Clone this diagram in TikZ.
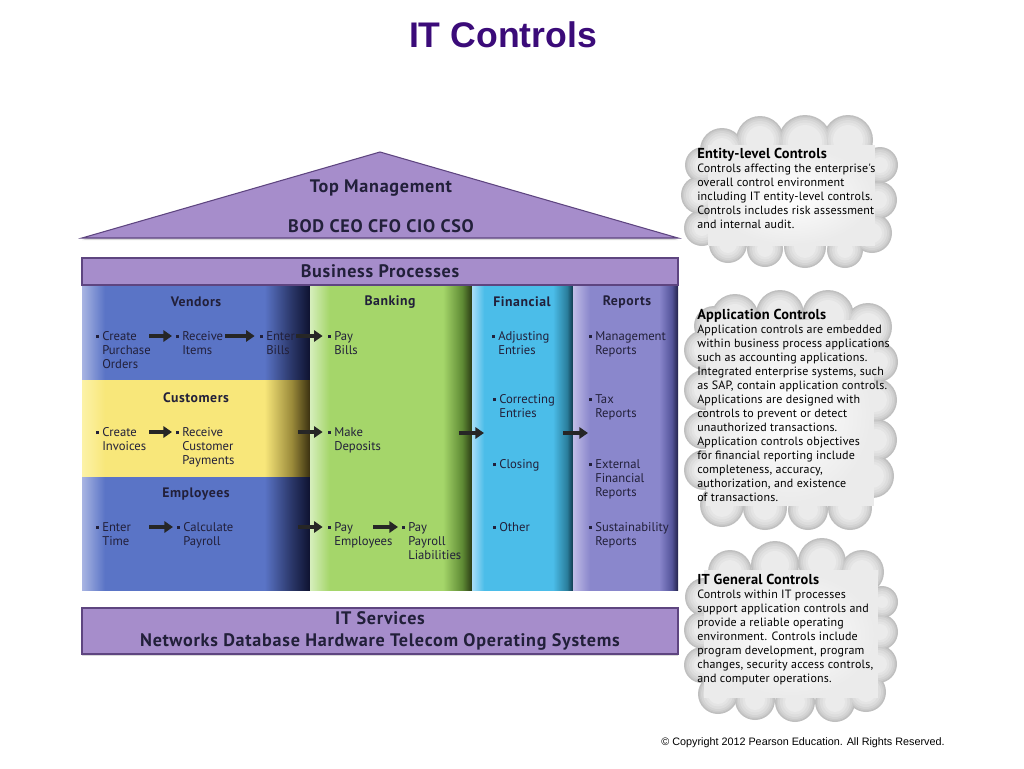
\documentclass[tikz,border=0pt]{standalone}
\usepackage{fontspec}
\setmainfont{PT Sans}
\newfontfamily\arialf{Liberation Sans}
\newfontfamily\hdrfont[LetterSpace=4]{PT Sans}
\newfontfamily\cloudfont[LetterSpace=1.5]{PT Sans}
\usetikzlibrary{arrows.meta,shadows,calc}
\definecolor{titlec}{HTML}{3B0B79}
\definecolor{barfill}{HTML}{A68DCB}
\definecolor{barline}{HTML}{5E4580}
\definecolor{txt}{HTML}{22203A}
\definecolor{bl1}{HTML}{A8B4E2}\definecolor{bl2}{HTML}{5A74C6}\definecolor{bl3}{HTML}{2A3668}\definecolor{bl4}{HTML}{0E1230}
\definecolor{ye1}{HTML}{FCF2A8}\definecolor{ye2}{HTML}{F8E77A}\definecolor{ye3}{HTML}{9A8A3A}\definecolor{ye4}{HTML}{3A3010}
\definecolor{gr1}{HTML}{D6EEBC}\definecolor{gr2}{HTML}{A5D66A}\definecolor{gr3}{HTML}{5E8A34}\definecolor{gr4}{HTML}{2A3A14}
\definecolor{cy1}{HTML}{A8DEF6}\definecolor{cy2}{HTML}{4BBDE9}\definecolor{cy3}{HTML}{2A7E9C}\definecolor{cy4}{HTML}{10384A}
\definecolor{rp1}{HTML}{C0BCE6}\definecolor{rp2}{HTML}{8A87CC}\definecolor{rp3}{HTML}{54549A}\definecolor{rp4}{HTML}{22224A}
\pgfdeclarehorizontalshading{blueS}{100bp}{color(0bp)=(bl1); color(25bp)=(bl1); color(30bp)=(bl2); color(65bp)=(bl2); color(71bp)=(bl3); color(75bp)=(bl4); color(100bp)=(bl4)}
\pgfdeclarehorizontalshading{yellowS}{100bp}{color(0bp)=(ye1); color(25bp)=(ye1); color(30bp)=(ye2); color(65bp)=(ye2); color(71bp)=(ye3); color(75bp)=(ye4); color(100bp)=(ye4)}
\pgfdeclarehorizontalshading{greenS}{100bp}{color(0bp)=(gr1); color(25bp)=(gr1); color(31bp)=(gr2); color(66bp)=(gr2); color(72bp)=(gr3); color(75bp)=(gr4); color(100bp)=(gr4)}
\pgfdeclarehorizontalshading{cyanS}{100bp}{color(0bp)=(cy1); color(25bp)=(cy1); color(31bp)=(cy2); color(65bp)=(cy2); color(72bp)=(cy3); color(75bp)=(cy4); color(100bp)=(cy4)}
\pgfdeclarehorizontalshading{repS}{100bp}{color(0bp)=(rp1); color(25bp)=(rp1); color(33bp)=(rp2); color(66bp)=(rp2); color(72bp)=(rp3); color(75bp)=(rp4); color(100bp)=(rp4)}
\newcommand\blt{\makebox[4.5pt][l]{\raisebox{1.6pt}{\rule{2.2pt}{2.2pt}}}}
\newcommand\ind{\hspace*{4.5pt}}
\newcommand\cltitle{\bfseries\fontsize{10.8}{10.5}\selectfont}
% cloud: core rectangle x0 y0 x1 y1, list of puffs x/y/r
\newcommand\drawcloud[5]{%
  \foreach \dr/\cc in {0/gray!50, 1.5/gray!41, 3/gray!34, 5/gray!27, 7.5/gray!21, 10/gray!16}{%
    \fill[fill=\cc] (#1,#2) rectangle (#3,#4);
    \foreach \px/\py/\pr in {#5}{%
      \fill[fill=\cc] (\px,\py) circle ({(\pr-\dr)*0.75pt});
    }%
  }%
  \shade[inner color=white, outer color=gray!16] ({(#1+#3)/2},{(#2+#4)/2}) ellipse ({(#3-#1)*0.37pt} and {(#4-#2)*0.37pt});
}
\begin{document}
\begin{tikzpicture}[x=0.75pt,y=-0.75pt,
  bar/.style={draw=barline, line width=0.8pt, fill=barfill, drop shadow={opacity=0.3, shadow xshift=0pt, shadow yshift=-1.5pt}},
  hdr/.style={font=\hdrfont\bfseries\fontsize{13.6}{16}\selectfont, text=txt, inner sep=0pt},
  colhdr/.style={font=\hdrfont\bfseries\fontsize{10.3}{12}\selectfont, text=txt, inner sep=0pt},
  itm/.style={anchor=north west, inner sep=0pt, align=left, font=\fontsize{9.5}{10.5}\selectfont, text=txt},
  cltxt/.style={anchor=north west, inner sep=0pt, align=left, font=\cloudfont\fontsize{9}{10.5}\selectfont, text=black},
  arr/.style={-{Triangle[length=6.5pt,width=8.5pt]}, line width=3pt, draw=black!85}]
\useasboundingbox (0,0) rectangle (1024,768);

% title
\node[font=\arialf\bfseries\fontsize{26.7}{30}\selectfont, text=titlec] (title) at (503,35) {IT Controls};

% clouds
\drawcloud{708}{145}{875}{246}{722/150/22, 760/140/24, 805/142/27, 848/140/25, 880/165/18, 878/200/19, 872/233/20, 845/250/18, 805/247/21, 765/249/18, 728/244/19, 702/228/18, 700/195/19, 703/165/18}
\drawcloud{706}{320}{874}{506}{735/318/24, 780/314/24, 828/316/26, 868/327/24, 878/362/20, 875/400/22, 876/440/21, 872/476/22, 850/508/22, 808/510/20, 765/508/22, 722/505/22, 704/470/20, 703/430/19, 704/390/20, 704/350/20, 714/326/20}
\drawcloud{704}{570}{878}{698}{730/572/22, 775/565/24, 822/562/24, 862/572/22, 882/602/16, 880/632/18, 878/664/19, 866/692/20, 835/702/20, 795/702/20, 755/700/20, 718/694/20, 702/665/18, 703/630/19, 704/597/19}

\node[cltxt] (c1) at (697,148) {{\cltitle Entity-level Controls}\\Controls affecting the enterprise's\\overall control environment\\including IT entity-level controls.\\Controls includes risk assessment\\and internal audit.};
\node[cltxt] (c2) at (697,309) {{\cltitle Application Controls}\\Application controls are embedded\\within business process applications\\such as accounting applications.\\Integrated enterprise systems, such\\as SAP, contain application controls.\\Applications are designed with\\controls to prevent or detect\\unauthorized transactions.\\Application controls objectives\\for financial reporting include\\completeness, accuracy,\\authorization, and existence\\of transactions.};
\node[cltxt] (c3) at (697,574) {{\cltitle IT General Controls}\\Controls within IT processes\\support application controls and\\provide a reliable operating\\environment. Controls include\\program development, program\\changes, security access controls,\\and computer operations.};

% roof
\draw[bar] (82,238) -- (380,152) -- (678,238) -- cycle;
\node[hdr] (tm) at (381,188) {Top Management};
\node[hdr] (bod) at (381,226) {BOD CEO CFO CIO CSO};

% business processes bar
\node[bar, hdr, minimum width=447pt, minimum height=20.25pt] (bp) at (380,271.5) {Business Processes};

% columns
\shade[shading=blueS] (82,286) rectangle (310,380);
\shade[shading=yellowS] (82,380) rectangle (310,477);
\shade[shading=blueS] (82,477) rectangle (310,590);
\shade[shading=greenS] (310,286) rectangle (472,590);
\shade[shading=cyanS] (472,286) rectangle (573,590);
\shade[shading=repS] (573,286) rectangle (678,590);

\node[colhdr] (hv) at (196,302) {Vendors};
\node[colhdr] (hb) at (390,302) {Banking};
\node[colhdr] (hf) at (522,302) {Financial};
\node[colhdr] (hr) at (627,302) {Reports};
\node[colhdr] (hc) at (196,398) {Customers};
\node[colhdr] (he) at (196,494) {Employees};

% items
\node[itm] (po) at (96,331) {\blt Create\\\ind Purchase\\\ind Orders};
\node[itm] (ri) at (176,331) {\blt Receive\\\ind Items};
\node[itm] (eb) at (260,331) {\blt Enter\\\ind Bills};
\node[itm] (pb) at (328,331) {\blt Pay\\\ind Bills};
\node[itm] (ci) at (96,427) {\blt Create\\\ind Invoices};
\node[itm] (rc) at (176,427) {\blt Receive\\\ind Customer\\\ind Payments};
\node[itm] (md) at (328,427) {\blt Make\\\ind Deposits};
\node[itm] (et) at (96,522) {\blt Enter\\\ind Time};
\node[itm] (cp) at (177,522) {\blt Calculate\\\ind Payroll};
\node[itm] (pe) at (328,522) {\blt Pay\\\ind Employees};
\node[itm] (pl) at (402,522) {\blt Pay\\\ind Payroll\\\ind Liabilities};
\node[itm] (aj) at (492,331) {\blt Adjusting\\\ind Entries};
\node[itm] (ce) at (493,394) {\blt Correcting\\\ind Entries};
\node[itm] (cl) at (493,459) {\blt Closing};
\node[itm] (ot) at (493,522) {\blt Other};
\node[itm] (mr) at (589,331) {\blt Management\\\ind Reports};
\node[itm] (tr) at (589,394) {\blt Tax\\\ind Reports};
\node[itm] (ef) at (589,459) {\blt External\\\ind Financial\\\ind Reports};
\node[itm] (sr) at (589,522) {\blt Sustainability\\\ind Reports};

% arrows
\coordinate (a1) at (149,336);
\coordinate (a2) at (225,336);
\coordinate (a3) at (296,336);
\coordinate (a4) at (149,432);
\coordinate (a5) at (298,432);
\coordinate (a6) at (149,527);
\coordinate (a7) at (298,527);
\coordinate (a8) at (373,527);
\coordinate (a9) at (459,433);
\coordinate (a9e) at (484,433);
\coordinate (a10) at (563,433);
\coordinate (a10e) at (588,433);
\draw[arr] (a1) -- ([xshift=-3pt]ri.west |- a1);
\draw[arr] (a2) -- ([xshift=-4pt]eb.west |- a2);
\draw[arr] (a3) -- ([xshift=-4pt]pb.west |- a3);
\draw[arr] (a4) -- ([xshift=-3pt]rc.west |- a4);
\draw[arr] (a5) -- ([xshift=-4pt]md.west |- a5);
\draw[arr] (a6) -- ([xshift=-3pt]cp.west |- a6);
\draw[arr] (a7) -- ([xshift=-4pt]pe.west |- a7);
\draw[arr] (a8) -- ([xshift=-3pt]pl.west |- a8);
\draw[arr] (a9) -- (a9e);
\draw[arr] (a10) -- (a10e);

% IT services
\node[bar, hdr, minimum width=447pt, minimum height=34.5pt, align=center] (its) at (380,631) {IT Services\\Networks Database Hardware Telecom Operating Systems};

% copyright
\node[font=\arialf\fontsize{8.1}{9}\selectfont, inner sep=0pt] (copy) at (803,743) {© Copyright 2012 Pearson Education. All Rights Reserved.};
\end{tikzpicture}
\end{document}
